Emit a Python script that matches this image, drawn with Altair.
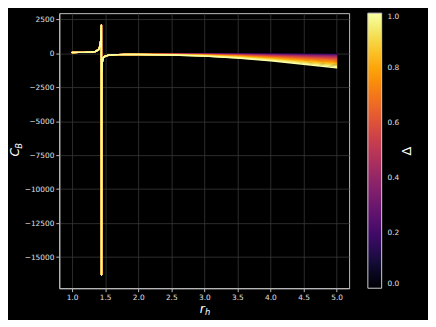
import altair as alt
import pandas as pd

# Shared part of every curve (r_h < 2): rise, pole near r_h ~ 1.445, recovery
head_r = [1.0, 1.1, 1.2, 1.3, 1.35, 1.4, 1.42, 1.435, 1.443, 1.445, 1.448, 1.455, 1.47, 1.5, 1.55, 1.6, 1.7, 1.8, 1.9]
head_c = [50, 55, 65, 90, 120, 250, 500, 1000, 2050, -16300, -1500, -700, -350, -220, -160, -130, -110, -100, -95]

# Tail (r_h = 2.0 ... 5.0) for each Delta
tail_r = [2.0, 2.5, 3.0, 3.5, 4.0, 4.5, 5.0]
deltas = [0.0, 0.05, 0.1, 0.15, 0.2, 0.25, 0.3, 0.35, 0.4, 0.45, 0.5,
          0.55, 0.6, 0.65, 0.7, 0.75, 0.8, 0.85, 0.9, 0.95, 1.0]
tail_c = [
    [-90, -75, -70, -70, -75, -80, -90],
    [-90, -75, -70, -71, -76, -82, -92],
    [-90, -76, -72, -73, -80, -87, -100],
    [-90, -76, -73, -77, -86, -97, -112],
    [-90, -78, -76, -82, -94, -110, -130],
    [-91, -79, -79, -88, -105, -126, -152],
    [-91, -81, -84, -96, -119, -147, -179],
    [-91, -83, -88, -106, -134, -171, -211],
    [-92, -85, -94, -116, -153, -198, -248],
    [-92, -88, -100, -129, -173, -230, -290],
    [-93, -91, -108, -143, -196, -265, -338],
    [-93, -95, -115, -158, -222, -304, -389],
    [-94, -98, -124, -174, -250, -346, -446],
    [-94, -102, -133, -193, -280, -393, -508],
    [-95, -107, -144, -212, -313, -443, -575],
    [-96, -112, -154, -233, -348, -496, -647],
    [-96, -117, -166, -256, -385, -554, -724],
    [-97, -122, -178, -280, -425, -615, -805],
    [-98, -128, -192, -305, -468, -679, -892],
    [-99, -134, -205, -332, -513, -748, -983],
    [-100, -140, -220, -360, -560, -820, -1080],
]

x_ticks = [1.0, 1.5, 2.0, 2.5, 3.0, 3.5, 4.0, 4.5, 5.0]
y_ticks = [2500, 0, -2500, -5000, -7500, -10000, -12500, -15000]
cbar_ticks = [0.0, 0.2, 0.4, 0.6, 0.8, 1.0]

rows = []
for d, tc in zip(deltas, tail_c):
    for r, c in zip(head_r + tail_r, head_c + tc):
        rows.append({"r": r, "C": c, "Delta": d})
df = pd.DataFrame(rows)

W, H = 294, 279
label_color = "#e0e0e0"

lines = alt.Chart(df).mark_line(strokeWidth=1.5, strokeJoin="round", strokeCap="round", clip=True).encode(
    x=alt.X("r:Q", scale=alt.Scale(domain=[0.806, 5.19], nice=False, zero=False),
            axis=alt.Axis(values=x_ticks, format=".1f", title=None)),
    y=alt.Y("C:Q", scale=alt.Scale(domain=[-17290, 2940], nice=False, zero=False),
            axis=alt.Axis(values=y_ticks, format="d", title=None)),
    color=alt.Color("Delta:Q",
                    scale=alt.Scale(scheme="inferno", domain=[0, 1]),
                    legend=alt.Legend(title=None, values=cbar_ticks, format=".1f",
                                      gradientLength=H, gradientThickness=14,
                                      gradientStrokeColor="#d0d0d0", gradientStrokeWidth=1,
                                      labelBaseline="middle", labelOffset=6,
                                      labelFontSize=7.5, labelColor=label_color,
                                      labelFont="DejaVu Sans", offset=19,
                                      direction="vertical", orient="right")),
    detail="Delta:N",
    order="r:Q",
)

def txt(t, x, y, size, italic=True, angle=0):
    return alt.Chart(pd.DataFrame({"t": [t]})).mark_text(
        text=t, fontSize=size, font="DejaVu Sans", color="white",
        fontStyle="italic" if italic else "normal", angle=angle,
        align="center", baseline="middle",
    ).encode(x=alt.value(x), y=alt.value(y))

titles = [
    txt("C", -45, 141, 12.5, angle=270),
    txt("B", -40.5, 134.5, 8.5, angle=270),
    txt("r", 145, 300.5, 12.5),
    txt("h", 150.5, 303.5, 8.5),
    txt("Δ", 353, 140, 13, italic=False, angle=270),
]

chart = alt.layer(lines, *titles).properties(
    width=W, height=H, background="black",
    autosize=alt.AutoSizeParams(type="none"),
    padding={"left": 52, "top": 3, "right": 80, "bottom": 30},
).configure_view(stroke="#bfbfbf", strokeWidth=1).configure_axis(
    labelFont="DejaVu Sans", labelFontSize=7.5, labelColor=label_color,
    domainColor="#bfbfbf", tickColor="#bfbfbf", tickSize=3.5, labelPadding=2,
    gridColor="#383838", gridWidth=0.8,
)

chart.save("out.html", embed_options={"renderer": "svg", "actions": False})
